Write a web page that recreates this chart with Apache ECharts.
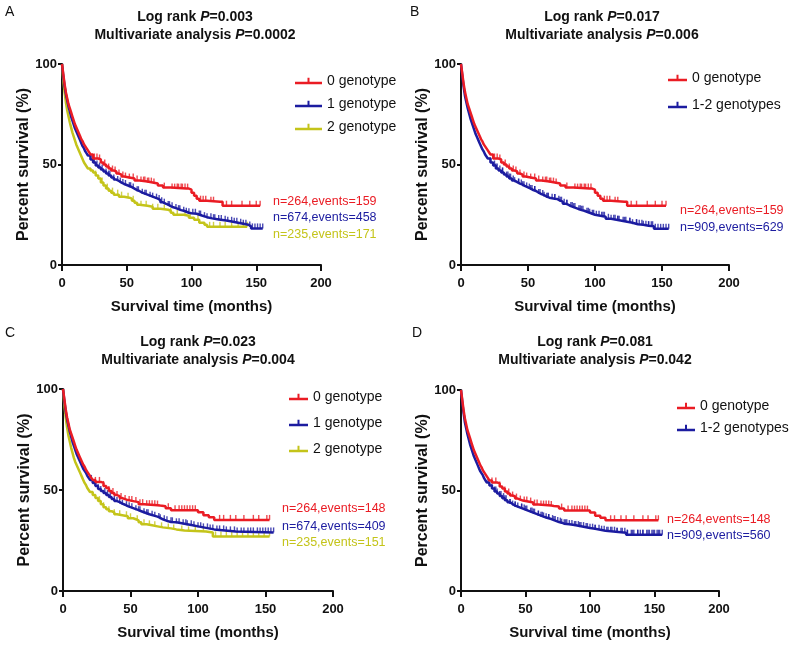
<!DOCTYPE html>
<html>
<head>
<meta charset="utf-8">
<script src="https://cdn.jsdelivr.net/npm/echarts@6/dist/echarts.min.js"></script>
<style>
  html, body { margin: 0; padding: 0; background: #fff; }
  #chart { width: 800px; height: 648px; }
</style>
</head>
<body>
<div id="chart"></div>
<script>
// axis ticks
const xTicks = [0, 50, 100, 150, 200];
const yTicks = [0, 50, 100];

// Kaplan-Meier steps: [months, percent survival]
// panel A / B: 0 genotype (n=264, events=159)
const red1 = [[0,100],[1,95],[2,90],[3,86],[4,83],[5,80],[6,78],[7,76],[8,74],[9,72],[10,70],[11,68.5],[12,67],[13,65.5],[14,64],[15,62.5],[16,61.5],[17,60],[18,59],[19,58],[20,57],[21,56],[22,55],[24,53],[28,52.5],[30,51],[32,50],[34,49],[36,48],[38,47],[40,46.5],[42,45.5],[44,45],[46,44],[48,43.5],[52,43],[56,42],[60,41.5],[66,41],[70,40.5],[74,39.5],[78,38.5],[84,38],[96,38],[98,37.5],[100,36],[102,34.5],[104,33],[106,32],[112,31.5],[122,31.5],[124,29.5],[153,29.5]];
// panel A: 1 genotype (n=674, events=458)
const blue1 = [[0,100],[1,94],[2,89],[3,85],[4,82],[5,79],[6,76.5],[7,74],[8,72],[9,70],[10,68],[11,66.5],[12,65],[13,63.5],[14,62],[15,60.5],[16,59],[17,58],[18,56.5],[19,55.5],[20,54.5],[22,52.5],[24,51],[26,49.5],[28,48.5],[30,47.5],[32,46.5],[34,45.5],[36,44.5],[38,43.5],[40,42.5],[42,41.8],[44,41],[46,40.3],[48,39.8],[50,39.3],[52,38.7],[54,38],[56,37.3],[58,36.7],[60,36],[62,35.5],[64,35],[66,34.5],[68,34],[70,33.5],[72,33],[74,32.3],[76,31.2],[78,30.5],[80,30],[82,29.3],[84,28.7],[86,28.3],[88,27.8],[90,27.3],[92,27],[94,26.5],[96,26],[98,25.8],[100,25.5],[104,24.6],[108,23.8],[112,23.2],[116,22.8],[120,22.4],[124,22],[128,21.5],[132,21],[136,20.5],[140,20],[144,19.2],[146,18.2],[155,18.2]];
// panel A: 2 genotype (n=235, events=171)
const yellow1 = [[0,100],[1,92],[2,86],[3,81],[4,77],[5,74],[6,71],[7,68.5],[8,66],[9,64],[10,62],[11,60],[12,58.5],[13,57],[14,55.5],[15,54],[16,52.5],[17,51],[18,50],[19,49],[20,48],[22,47],[24,46],[26,44.5],[28,43],[30,41],[32,39.5],[34,38],[36,37],[38,36],[40,35],[44,34],[48,33.5],[52,33],[54,32],[56,31],[58,30],[60,29.5],[66,29],[70,28],[76,27.5],[82,27],[84,26],[86,25],[94,24.5],[98,23.5],[102,22.5],[106,21],[110,20],[112,19],[143,19]];
// panel B: 1-2 genotypes (n=909, events=629)
const blue2 = [[0,100],[1,94],[2,88.5],[3,84],[4,81],[5,78],[6,75.5],[7,73],[8,71],[9,69],[10,67],[11,65],[12,63.5],[13,62],[14,60.5],[15,59],[16,57.5],[17,56.5],[18,55],[19,54],[20,53],[22,51],[24,49.5],[26,48],[28,47],[30,46],[32,45],[34,44],[36,43],[38,42],[40,41.2],[42,40.5],[44,40],[46,39.2],[48,38.6],[50,38],[52,37.3],[54,36.8],[56,36],[58,35.3],[60,34.8],[62,34],[64,33.5],[66,33],[70,32.8],[72,32],[74,31.5],[76,30.5],[78,30],[80,29.3],[82,28.8],[84,28.3],[86,27.8],[88,27.3],[90,27],[92,26.5],[94,26],[96,25.5],[98,25],[100,24.5],[104,24],[108,23],[112,22.5],[116,22],[120,21.5],[124,21],[128,20.3],[132,20],[136,19.5],[140,19.3],[144,18],[155,18]];
// panel C / D: 0 genotype (n=264, events=148)
const red3 = [[0,100],[1,95],[2,90],[3,86],[4,83],[5,80],[6,78],[7,76],[8,74],[9,72],[10,70],[11,68.5],[12,67],[13,65.5],[14,64],[15,62.5],[16,61.5],[17,60],[18,59],[19,58],[20,57],[21,56],[22,55],[24,54],[28,53.5],[30,52],[32,51],[34,49.5],[36,48.5],[38,47.5],[40,47],[42,46],[44,45.5],[46,45],[48,44.5],[52,44],[56,43],[60,42.5],[70,42.3],[72,42],[76,41],[80,40],[98,40],[100,39],[104,37.5],[108,36.5],[112,35.2],[153,35.2]];
// panel C: 1 genotype (n=674, events=409)
const blue3 = [[0,100],[1,94],[2,89],[3,85],[4,82],[5,79],[6,76.5],[7,74],[8,72],[9,70],[10,68],[11,66.5],[12,65],[13,63.5],[14,62],[15,60.5],[16,59.5],[17,58.5],[18,57],[19,56],[20,55],[22,53.5],[24,52],[26,50.5],[28,49.5],[30,48.5],[32,47.5],[34,46.5],[36,45.5],[38,44.5],[40,44],[42,43.3],[44,42.7],[46,42],[48,41.5],[50,41],[52,40.5],[54,40],[56,39.5],[58,39],[60,38.5],[62,38],[64,37.6],[66,37.2],[68,36.8],[70,36.2],[72,35.5],[74,35],[76,34.5],[78,34.2],[80,34],[84,33.5],[88,33],[92,32.5],[96,32],[100,31.5],[104,31],[108,30.5],[112,30],[120,29.5],[128,29],[156,29]];
// panel C: 2 genotype (n=235, events=151)
const yellow3 = [[0,100],[1,92],[2,86],[3,81],[4,77],[5,74],[6,71],[7,68.5],[8,66],[9,64],[10,62.5],[11,61],[12,59.5],[13,58],[14,56.5],[15,55],[16,53.5],[17,52.5],[18,51],[19,50],[20,49],[22,47.5],[24,46],[26,44.5],[28,43],[30,41.5],[32,40.5],[34,39.5],[36,39],[38,38],[40,37.5],[44,37],[48,36],[52,35.5],[54,35],[56,34],[58,33],[62,32.5],[66,32],[70,31.5],[74,31],[80,30.5],[84,30],[90,29.5],[106,29],[111,27],[153,27]];
// panel D: 1-2 genotypes (n=909, events=560)
const blue4 = [[0,100],[1,94],[2,88.5],[3,84],[4,81],[5,78],[6,75.5],[7,73],[8,71],[9,69],[10,67],[11,65.5],[12,64],[13,62.5],[14,61],[15,59.5],[16,58.5],[17,57.5],[18,56],[19,55],[20,54],[22,52.5],[24,51],[26,49.5],[28,48.5],[30,47.3],[32,46.2],[34,45.2],[36,44.2],[38,43.3],[40,42.5],[42,42],[44,41.5],[46,41],[48,40.5],[50,40],[52,39.5],[54,39],[56,38.5],[58,38],[60,37.5],[62,37],[64,36.6],[66,36.2],[68,35.8],[70,35.3],[72,34.8],[74,34.3],[76,34],[78,33.5],[80,33.2],[84,32.8],[88,32.3],[92,31.8],[96,31.3],[100,31],[104,30.5],[108,30],[112,29.5],[120,29],[128,28],[156,28]];

// censored times (months)
const cRed1 = [25,27,29,33,36,39,41,44,47,49,52,55,58,61,63,64,66,67,69,71,79,85,87,89,90,92,93,95,97,107,109,111,115,117,127,131,139,145,150,153];
const cBlue1 = [22,25,27,29,31,34,36,37,40,43,45,47,49,52,53,55,58,59,62,64,65,68,70,73,75,77,79,82,83,85,88,90,91,94,96,98,101,103,106,107,110,112,115,117,118,121,123,126,128,131,133,135,138,140,142,145,147,149,151,153,155];
const cYellow1 = [26,31,35,39,43,46,51,55,61,65,70,74,79,84,89,95,99,105,114,117,122,126,131,136,140,143];
const cRed3 = [24,27,30,34,37,40,43,46,49,51,54,57,59,62,64,66,68,70,78,83,86,88,90,92,94,96,98,116,119,124,128,134,141,145,151,153];
const cBlue3 = [21,24,26,28,31,33,35,38,40,42,44,47,49,51,54,56,57,60,62,63,66,68,71,72,75,77,80,81,84,86,89,91,92,95,97,100,102,104,107,109,111,114,116,119,121,124,127,129,132,134,137,139,141,144,146,148,150,152,154,156];
const cYellow3 = [27,30,34,38,42,47,50,55,60,64,68,73,78,82,88,93,98,104,113,117,121,125,129,133,137,141,145,149,153];

const names = ['0 genotype', '1 genotype', '2 genotype', '1-2 genotypes'];
const colors = { red: '#ea1c24', blue: '#1c1ca0', yellow: '#c4c41a' };

const FONT = 'Arial, "Liberation Sans", sans-serif';

function survAt(curve, t) {
  let s = curve[0][1];
  for (const p of curve) { if (p[0] <= t) s = p[1]; else break; }
  return s;
}

// legend icon: a line with a small censor tick, sized to the item box
function legendIcon(w) {
  return 'path://M0,4h' + w + 'v2.4h-' + w + 'z M' + (w / 2 - 1) + ',0h2v4h-2z';
}

const panels = [
  { letter: 'A', lr: '0.003', mv: '0.0002',
    grid: { left: 62, top: 64, width: 259, height: 201 },
    titleX: 190, titleY: 3, letterXY: [5, 12],
    legend: { left: 295, top: 74, itemWidth: 27, itemGap: 9 },
    curves: [
      { name: names[0], color: colors.red, data: red1, cens: cRed1, note: 'n=264,events=159' },
      { name: names[1], color: colors.blue, data: blue1, cens: cBlue1, note: 'n=674,events=458' },
      { name: names[2], color: colors.yellow, data: yellow1, cens: cYellow1, note: 'n=235,events=171' }
    ],
    noteX: 273, noteY: [202, 218, 235] },
  { letter: 'B', lr: '0.017', mv: '0.006',
    grid: { left: 461, top: 64, width: 268, height: 201 },
    titleX: 597, titleY: 3, letterXY: [410, 12],
    legend: { left: 668, top: 71, itemWidth: 19, itemGap: 13 },
    curves: [
      { name: names[0], color: colors.red, data: red1, cens: cRed1, note: 'n=264,events=159' },
      { name: names[3], color: colors.blue, data: blue2, cens: cBlue1.concat(cYellow1), note: 'n=909,events=629' }
    ],
    noteX: 680, noteY: [211, 228] },
  { letter: 'C', lr: '0.023', mv: '0.004',
    grid: { left: 63, top: 389, width: 270, height: 202 },
    titleX: 193, titleY: 328, letterXY: [5, 333],
    legend: { left: 289, top: 390, itemWidth: 19, itemGap: 12 },
    curves: [
      { name: names[0], color: colors.red, data: red3, cens: cRed3, note: 'n=264,events=148' },
      { name: names[1], color: colors.blue, data: blue3, cens: cBlue3, note: 'n=674,events=409' },
      { name: names[2], color: colors.yellow, data: yellow3, cens: cYellow3, note: 'n=235,events=151' }
    ],
    noteX: 282, noteY: [509, 527, 543] },
  { letter: 'D', lr: '0.081', mv: '0.042',
    grid: { left: 461, top: 390, width: 258, height: 201 },
    titleX: 590, titleY: 328, letterXY: [412, 333],
    legend: { left: 677, top: 399, itemWidth: 18, itemGap: 8 },
    curves: [
      { name: names[0], color: colors.red, data: red3, cens: cRed3, note: 'n=264,events=148' },
      { name: names[3], color: colors.blue, data: blue4, cens: cBlue3.concat(cYellow3), note: 'n=909,events=560' }
    ],
    noteX: 667, noteY: [520, 536] }
];

const option = {
  animation: false,
  backgroundColor: '#fff',
  textStyle: { fontFamily: FONT },
  title: [], grid: [], xAxis: [], yAxis: [], legend: [], series: [], graphic: []
};

panels.forEach((p, i) => {
  option.title.push({
    text: 'Log rank {i|P}=' + p.lr + '\nMultivariate analysis {i|P}=' + p.mv,
    left: p.titleX, top: p.titleY, textAlign: 'center',
    textStyle: {
      fontFamily: FONT, fontSize: 14, fontWeight: 'bold', color: '#111', lineHeight: 18,
      rich: { i: { fontFamily: FONT, fontSize: 14, fontWeight: 'bold', fontStyle: 'italic', color: '#111', lineHeight: 18 } }
    }
  });
  option.graphic.push({
    type: 'text', x: p.letterXY[0], y: p.letterXY[1],
    style: { text: p.letter, fontFamily: FONT, fontSize: 14, fill: '#111', verticalAlign: 'middle' }
  });
  option.grid.push(Object.assign({ containLabel: false }, p.grid));
  option.xAxis.push({
    gridIndex: i, type: 'value', min: xTicks[0], max: xTicks[xTicks.length - 1], interval: xTicks[1] - xTicks[0],
    name: 'Survival time (months)', nameLocation: 'middle', nameGap: 34,
    nameTextStyle: { fontFamily: FONT, fontSize: 15, fontWeight: 'bold', color: '#111' },
    axisLine: { lineStyle: { color: '#111', width: 2 } },
    axisTick: { length: 6, lineStyle: { color: '#111', width: 2 } },
    axisLabel: { fontFamily: FONT, fontSize: 13, fontWeight: 'bold', color: '#111', margin: 12 },
    splitLine: { show: false }
  });
  option.yAxis.push({
    gridIndex: i, type: 'value', min: yTicks[0], max: yTicks[yTicks.length - 1], interval: yTicks[1] - yTicks[0],
    name: 'Percent survival (%)', nameLocation: 'middle', nameGap: 30,
    nameTextStyle: { fontFamily: FONT, fontSize: 16, fontWeight: 'bold', color: '#111' },
    axisLine: { show: true, lineStyle: { color: '#111', width: 2 } },
    axisTick: { show: true, length: 4, lineStyle: { color: '#111', width: 2 } },
    axisLabel: { fontFamily: FONT, fontSize: 13, fontWeight: 'bold', color: '#111', margin: 5 },
    splitLine: { show: false }
  });
  option.legend.push({
    left: p.legend.left, top: p.legend.top, orient: 'vertical', padding: 0,
    itemWidth: p.legend.itemWidth, itemHeight: 6.4, itemGap: p.legend.itemGap,
    icon: legendIcon(p.legend.itemWidth),
    selectedMode: false,
    textStyle: { fontFamily: FONT, fontSize: 14, color: '#111', lineHeight: 14, padding: [0, 0, 0, 0] },
    data: p.curves.map(c => c.name)
  });
  p.curves.forEach((c, k) => {
    option.series.push({
      type: 'line', name: c.name, xAxisIndex: i, yAxisIndex: i, step: 'end',
      data: c.data, showSymbol: false, color: c.color,
      lineStyle: { color: c.color, width: 2.5 }, z: 3 - k
    });
    option.series.push({
      type: 'scatter', name: c.name + ' censored', xAxisIndex: i, yAxisIndex: i,
      data: c.cens.map(t => [t, survAt(c.data, t)]),
      symbol: 'rect', symbolSize: [1.4, 5], symbolOffset: [0, -2.5],
      itemStyle: { color: c.color }, z: 3 - k
    });
    option.graphic.push({
      type: 'text', x: p.noteX, y: p.noteY[k],
      style: { text: c.note, fontFamily: FONT, fontSize: 12.5, fill: c.color, verticalAlign: 'middle' }
    });
  });
});

const chart = echarts.init(document.getElementById('chart'), null, { renderer: 'canvas' });
chart.setOption(option);
</script>
</body>
</html>
